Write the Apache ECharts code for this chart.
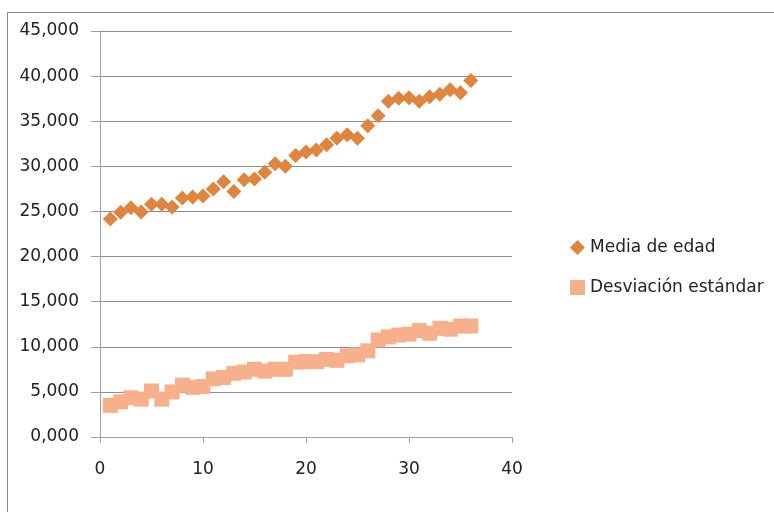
<!DOCTYPE html>
<html>
<head>
<meta charset="utf-8">
<script src="https://cdn.jsdelivr.net/npm/echarts@6/dist/echarts.min.js"></script>
<style>
html,body{margin:0;padding:0;background:#fff;}
#chart{width:774px;height:512px;}
</style>
</head>
<body>
<div id="chart"></div>
<script>
const xValues = [1,2,3,4,5,6,7,8,9,10,11,12,13,14,15,16,17,18,19,20,21,22,23,24,25,26,27,28,29,30,31,32,33,34,35,36];
const mediaEdad = [24.15,24.9,25.4,24.95,25.8,25.8,25.5,26.5,26.6,26.7,27.5,28.3,27.2,28.5,28.6,29.35,30.3,30.0,31.2,31.6,31.8,32.4,33.1,33.5,33.1,34.5,35.6,37.2,37.55,37.6,37.2,37.7,38.0,38.5,38.15,39.5];
const desviacion = [3.5,3.9,4.35,4.2,5.1,4.2,5.0,5.75,5.5,5.6,6.45,6.6,7.05,7.2,7.5,7.3,7.5,7.5,8.3,8.35,8.35,8.6,8.5,9.0,9.1,9.55,10.75,11.1,11.3,11.4,11.8,11.5,12.05,11.95,12.3,12.3];
const seriesNames = ['Media de edad','Desviación estándar'];

const chart = echarts.init(document.getElementById('chart'));
const fmt = v => v.toFixed(3).replace('.', ',');
chart.setOption({
  animation:false,
  graphic:[{type:'rect',shape:{x:7.5,y:12.5,width:780,height:520},style:{fill:'none',stroke:'#868686',lineWidth:1}}],
  grid:{left:100,right:262,top:31,bottom:75,containLabel:false},
  legend:{
    orient:'vertical', left:565, top:234, itemGap:23, itemWidth:15, itemHeight:15,
    textStyle:{fontFamily:'DejaVu Sans',fontSize:17,color:'#222'},
    data:[{name:seriesNames[0],icon:'diamond'},{name:seriesNames[1],icon:'rect'}]
  },
  xAxis:{type:'value',min:0,max:40,interval:10,
    axisLine:{lineStyle:{color:'#a0a0a0'}},axisTick:{show:true,length:6,lineStyle:{color:'#a0a0a0'}},
    splitLine:{show:false},
    axisLabel:{fontFamily:'DejaVu Sans',fontSize:17,color:'#222',margin:24}},
  yAxis:{type:'value',min:0,max:45,interval:5,
    axisLine:{show:true,lineStyle:{color:'#a0a0a0'}},axisTick:{show:true,length:9,lineStyle:{color:'#a0a0a0'}},
    splitLine:{lineStyle:{color:'#8c8c8c'}},
    axisLabel:{fontFamily:'DejaVu Sans',fontSize:17,color:'#222',margin:21,formatter:fmt}},
  series:[
    {name:seriesNames[0],type:'scatter',symbol:'diamond',symbolSize:15,
     itemStyle:{color:'#DE8540',opacity:1},data:xValues.map((x,i)=>[x,mediaEdad[i]])},
    {name:seriesNames[1],type:'scatter',symbol:'rect',symbolSize:15,
     itemStyle:{color:'#F7B08C',opacity:1},data:xValues.map((x,i)=>[x,desviacion[i]])}
  ]
});
</script>
</body>
</html>
